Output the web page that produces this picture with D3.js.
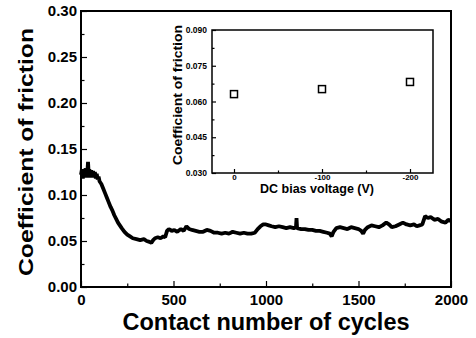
<!DOCTYPE html>
<html>
<head>
<meta charset="utf-8">
<script src="https://d3js.org/d3.v7.min.js"></script>
<style>
    body { margin: 0; background: #fff; }
    svg { display: block; font-family: Arial, "Liberation Sans", sans-serif; font-weight: bold; }
</style>
</head>
<body>
<div id="chart"></div>
<script>
// friction trace
var cycles = [0, 5, 10, 15, 20, 25, 30, 35, 38, 42, 45, 50, 55, 60, 65, 70, 75, 80, 85, 90, 95, 100, 110, 120, 130, 140, 150, 160, 170, 180, 190, 200,
    210, 220, 235, 250, 265, 280, 300, 320, 340, 355, 370, 380, 390, 400, 415, 430, 445, 455, 465, 475,
    490, 505, 520, 540, 555, 570, 585, 600, 620, 640, 660, 680, 700, 720, 740, 760, 780, 800, 820, 840,
    860, 880, 900, 920, 940, 955, 970, 985, 1000, 1015, 1030, 1050, 1070, 1090, 1110, 1130, 1150, 1162, 1165, 1168,
    1190, 1210, 1230, 1250, 1270, 1290, 1310, 1330, 1345, 1355, 1365, 1380, 1400, 1420, 1440, 1460, 1480, 1500, 1515, 1525,
    1535, 1550, 1570, 1590, 1610, 1630, 1650, 1665, 1680, 1700, 1720, 1740, 1760, 1780, 1800, 1815, 1830, 1845, 1860, 1875,
    1890, 1910, 1930, 1950, 1970, 1985, 2000];
var cof = [0.122, 0.128, 0.118, 0.127, 0.120, 0.129, 0.119, 0.127, 0.136, 0.121, 0.128, 0.119, 0.127, 0.120, 0.126, 0.119, 0.125, 0.118, 0.123, 0.117, 0.120, 0.115, 0.112, 0.107, 0.102, 0.097, 0.092, 0.087, 0.083, 0.078, 0.074, 0.070,
    0.067, 0.064, 0.060, 0.057, 0.055, 0.053, 0.052, 0.051, 0.052, 0.050, 0.049, 0.048, 0.051, 0.053, 0.054, 0.053, 0.055, 0.054, 0.061, 0.063,
    0.061, 0.062, 0.060, 0.063, 0.061, 0.066, 0.063, 0.062, 0.061, 0.060, 0.060, 0.062, 0.061, 0.059, 0.059, 0.058, 0.059, 0.058, 0.060, 0.059,
    0.058, 0.059, 0.058, 0.058, 0.059, 0.063, 0.066, 0.068, 0.068, 0.067, 0.066, 0.065, 0.066, 0.065, 0.064, 0.065, 0.064, 0.065, 0.075, 0.064,
    0.063, 0.063, 0.062, 0.062, 0.061, 0.061, 0.060, 0.059, 0.058, 0.055, 0.060, 0.064, 0.065, 0.064, 0.063, 0.065, 0.064, 0.063, 0.061, 0.058,
    0.062, 0.065, 0.067, 0.066, 0.065, 0.067, 0.070, 0.068, 0.065, 0.066, 0.068, 0.070, 0.068, 0.067, 0.068, 0.066, 0.067, 0.068, 0.077, 0.075,
    0.076, 0.073, 0.074, 0.071, 0.070, 0.073, 0.072];

// inset: friction vs DC bias
var biasVoltage = [0, -100, -200];
var biasCof = [0.0631, 0.0652, 0.0682];

var xTicks = [0, 500, 1000, 1500, 2000];
var yTicks = [0.00, 0.05, 0.10, 0.15, 0.20, 0.25, 0.30];
var insetXTicks = [0, -100, -200];
var insetYTicks = [0.030, 0.045, 0.060, 0.075, 0.090];

var W = 476, H = 338;
var svg = d3.select("#chart").append("svg")
    .attr("width", W)
    .attr("height", H);

svg.append("rect").attr("width", W).attr("height", H).attr("fill", "#fff");

// ---------- main plot ----------
var x = d3.scaleLinear().domain([0, 2000]).range([81, 451]);
var y = d3.scaleLinear().domain([0, 0.30]).range([287, 11]);

var data = cycles.map(function (c, i) { return { c: c, v: cof[i] }; });

svg.append("path")
    .datum(data)
    .attr("fill", "none")
    .attr("stroke", "#000")
    .attr("stroke-width", 3.8)
    .attr("stroke-linejoin", "bevel")
    .attr("d", d3.line()
        .x(function (d) { return x(d.c); })
        .y(function (d) { return y(d.v); }));

// inward ticks, major + minor
var bottomAxis = svg.append("g")
    .attr("transform", "translate(0,287)")
    .call(d3.axisBottom(x).tickValues(xTicks).tickSize(-6).tickFormat(d3.format("d")).tickPadding(7));
svg.append("g")
    .attr("transform", "translate(0,287)")
    .call(d3.axisBottom(x).tickValues([250, 750, 1250, 1750]).tickSize(-3.5).tickFormat(""));

var leftAxis = svg.append("g")
    .attr("transform", "translate(81,0)")
    .call(d3.axisLeft(y).tickValues(yTicks).tickSize(-6).tickFormat(d3.format(".2f")).tickPadding(4));
svg.append("g")
    .attr("transform", "translate(81,0)")
    .call(d3.axisLeft(y).tickValues([0.025, 0.075, 0.125, 0.175, 0.225, 0.275]).tickSize(-3.5).tickFormat(""));

svg.selectAll(".domain").remove();
svg.selectAll(".tick line").attr("stroke", "#000").attr("stroke-width", 1.5);
bottomAxis.selectAll("text").attr("font-size", 15).attr("font-weight", "bold").attr("fill", "#000");
leftAxis.selectAll("text").attr("font-size", 15).attr("font-weight", "bold").attr("fill", "#000");

// frame
svg.append("rect")
    .attr("x", 81).attr("y", 11)
    .attr("width", 370).attr("height", 276)
    .attr("fill", "none")
    .attr("stroke", "#000")
    .attr("stroke-width", 2);

// axis titles
svg.append("text")
    .attr("x", 266).attr("y", 330)
    .attr("text-anchor", "middle")
    .attr("font-size", 23.5)
    .attr("textLength", 287)
    .attr("lengthAdjust", "spacingAndGlyphs")
    .text("Contact number of cycles");

svg.append("text")
    .attr("transform", "translate(33,152) rotate(-90)")
    .attr("text-anchor", "middle")
    .attr("font-size", 21)
    .attr("textLength", 248)
    .attr("lengthAdjust", "spacingAndGlyphs")
    .text("Coefficient of friction");

// ---------- inset ----------
var ix = d3.scaleLinear().domain([0, -200]).range([234, 410]);
var iy = d3.scaleLinear().domain([0.03, 0.09]).range([173, 30]);

var insetX = svg.append("g")
    .attr("transform", "translate(0,173)")
    .call(d3.axisBottom(ix).tickValues(insetXTicks).tickSize(-4).tickFormat(function (d) { return d === 0 ? "0" : "-" + Math.abs(d); }).tickPadding(1.5));
svg.append("g")
    .attr("transform", "translate(0,173)")
    .call(d3.axisBottom(ix).tickValues([-50, -150]).tickSize(-2.5).tickFormat(""));

var insetY = svg.append("g")
    .attr("transform", "translate(212,0)")
    .call(d3.axisLeft(iy).tickValues(insetYTicks).tickSize(-4).tickFormat(d3.format(".3f")).tickPadding(5));
svg.append("g")
    .attr("transform", "translate(212,0)")
    .call(d3.axisLeft(iy).tickValues([0.0375, 0.0525, 0.0675, 0.0825]).tickSize(-2.5).tickFormat(""));

svg.selectAll(".domain").remove();
svg.selectAll(".tick line").attr("stroke", "#000").attr("stroke-width", 1.2);
insetX.selectAll("text").attr("font-size", 8).attr("font-weight", "bold").attr("fill", "#000");
insetY.selectAll("text").attr("font-size", 8.5).attr("font-weight", "bold").attr("fill", "#000");

svg.append("rect")
    .attr("x", 212).attr("y", 30)
    .attr("width", 221).attr("height", 143)
    .attr("fill", "none")
    .attr("stroke", "#000")
    .attr("stroke-width", 1.5);

svg.selectAll("rect.pt")
    .data(biasVoltage)
    .enter()
    .append("rect")
    .attr("class", "pt")
    .attr("x", function (d) { return ix(d) - 3.5; })
    .attr("y", function (d, i) { return iy(biasCof[i]) - 3.5; })
    .attr("width", 7).attr("height", 7)
    .attr("fill", "#fff")
    .attr("stroke", "#000")
    .attr("stroke-width", 1.5);

svg.append("text")
    .attr("x", 317).attr("y", 193)
    .attr("text-anchor", "middle")
    .attr("font-size", 12)
    .attr("textLength", 114)
    .attr("lengthAdjust", "spacingAndGlyphs")
    .text("DC bias voltage (V)");

svg.append("text")
    .attr("transform", "translate(182,95) rotate(-90)")
    .attr("text-anchor", "middle")
    .attr("font-size", 13)
    .attr("textLength", 140)
    .attr("lengthAdjust", "spacingAndGlyphs")
    .text("Coefficient of friction");
</script>
</body>
</html>
